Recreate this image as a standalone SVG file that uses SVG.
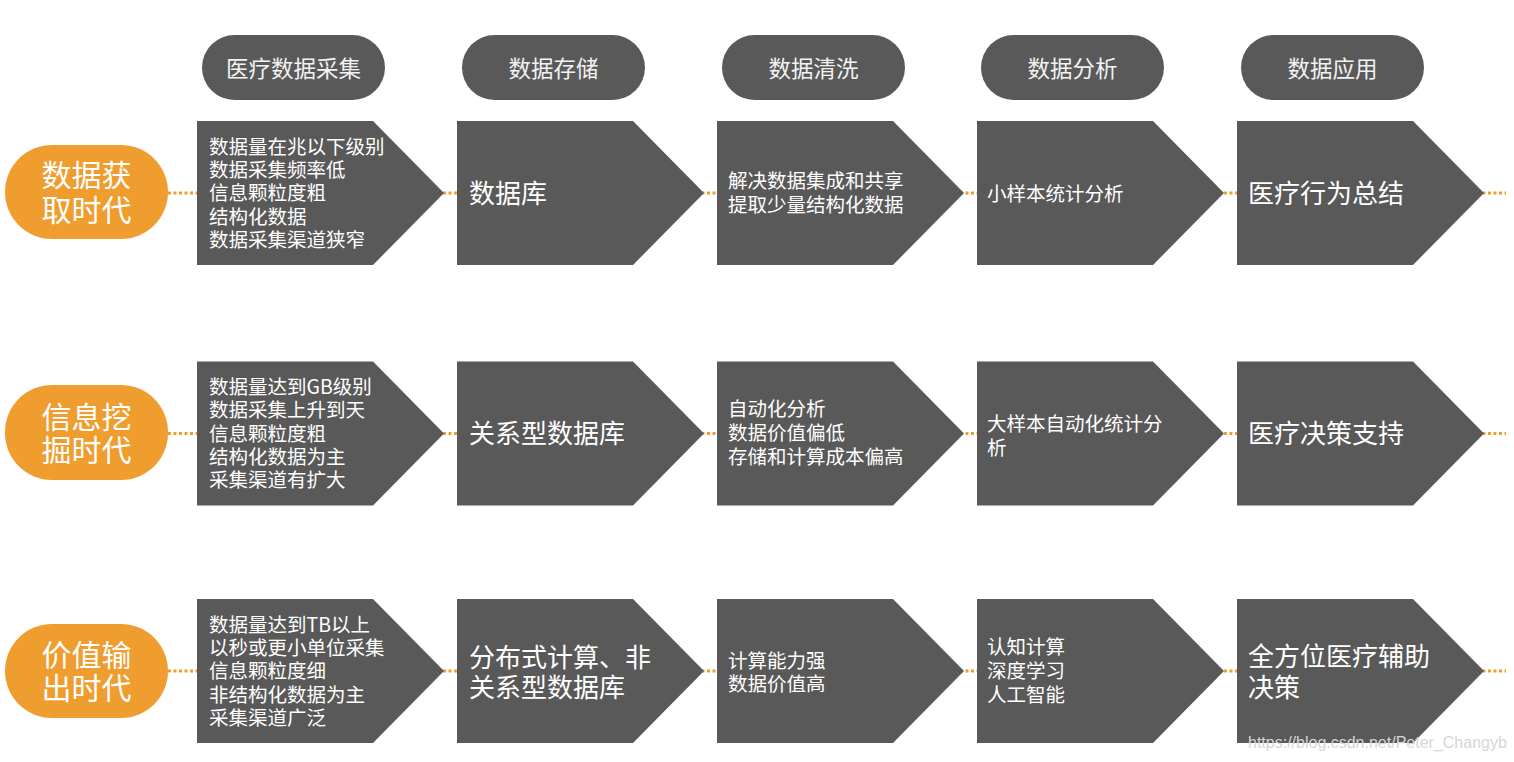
<svg xmlns="http://www.w3.org/2000/svg" width="1514" height="762" viewBox="0 0 1514 762">
<defs>
<style>
.hdr{fill:#595959}
.hdrt{fill:#f2f2f2;font-family:"Noto Sans CJK SC","Liberation Sans",sans-serif;font-size:22.5px;text-anchor:middle}
.era{fill:#EF9D2F}
.erat{fill:#ffffff;font-family:"Noto Sans CJK SC","Liberation Sans",sans-serif;font-size:30px;text-anchor:middle}
.box{fill:#595959}
.s{fill:#ffffff;font-family:"Noto Sans CJK SC","Liberation Sans",sans-serif;font-size:19.5px}
.l{fill:#ffffff;font-family:"Noto Sans CJK SC","Liberation Sans",sans-serif;font-size:26px}
.dot{stroke:#EF9D2F;stroke-width:3;stroke-dasharray:3 2.5;fill:none}
.wm{fill:#d6d6d6;font-family:"Liberation Sans",Arial,sans-serif;font-size:16px}
</style>
<polygon id="arrow" points="0,0 176,0 247,72 176,144 0,144"/>
</defs>
<rect width="1514" height="762" fill="#ffffff"/>

<g id="connectors">
<line class="dot" x1="168" y1="193" x2="1506" y2="193"/>
<line class="dot" x1="168" y1="433.5" x2="1506" y2="433.5"/>
<line class="dot" x1="168" y1="671" x2="1506" y2="671"/>
</g>

<g id="header-1"><rect class="hdr" x="202" y="35" width="183" height="65" rx="32.5"/><text class="hdrt" x="293.5" y="76.5">医疗数据采集</text></g>
<g id="header-2"><rect class="hdr" x="462" y="35" width="183" height="65" rx="32.5"/><text class="hdrt" x="553.5" y="76.5">数据存储</text></g>
<g id="header-3"><rect class="hdr" x="722" y="35" width="183" height="65" rx="32.5"/><text class="hdrt" x="813.5" y="76.5">数据清洗</text></g>
<g id="header-4"><rect class="hdr" x="981" y="35" width="183" height="65" rx="32.5"/><text class="hdrt" x="1072.5" y="76.5">数据分析</text></g>
<g id="header-5"><rect class="hdr" x="1241" y="35" width="183" height="65" rx="32.5"/><text class="hdrt" x="1332.5" y="76.5">数据应用</text></g>

<g id="era-1"><rect class="era" x="5" y="145" width="163" height="94" rx="47"/><text class="erat" x="86.5" y="186">数据获</text><text class="erat" x="86.5" y="221">取时代</text></g>
<g id="era-2"><rect class="era" x="5" y="385" width="163" height="95" rx="47"/><text class="erat" x="86.5" y="428">信息挖</text><text class="erat" x="86.5" y="461">掘时代</text></g>
<g id="era-3"><rect class="era" x="5" y="624" width="163" height="94" rx="47"/><text class="erat" x="86.5" y="666">价值输</text><text class="erat" x="86.5" y="699">出时代</text></g>

<!-- Row 1 -->
<g id="r1c1"><use href="#arrow" class="box" x="197" y="121"/>
<text class="s" x="209" y="153.8">数据量在兆以下级别</text>
<text class="s" x="209" y="177.1">数据采集频率低</text>
<text class="s" x="209" y="200.4">信息颗粒度粗</text>
<text class="s" x="209" y="223.7">结构化数据</text>
<text class="s" x="209" y="247">数据采集渠道狭窄</text></g>
<g id="r1c2"><use href="#arrow" class="box" x="457" y="121"/><text class="l" x="469" y="203">数据库</text></g>
<g id="r1c3"><use href="#arrow" class="box" x="717" y="121"/>
<text class="s" x="728" y="188">解决数据集成和共享</text>
<text class="s" x="728" y="211.5">提取少量结构化数据</text></g>
<g id="r1c4"><use href="#arrow" class="box" x="977" y="121"/><text class="s" x="987" y="200.5">小样本统计分析</text></g>
<g id="r1c5"><use href="#arrow" class="box" x="1237" y="121"/><text class="l" x="1248" y="203">医疗行为总结</text></g>

<!-- Row 2 -->
<g id="r2c1"><use href="#arrow" class="box" x="197" y="361.5"/>
<text class="s" x="209" y="394">数据量达到GB级别</text>
<text class="s" x="209" y="417.3">数据采集上升到天</text>
<text class="s" x="209" y="440.6">信息颗粒度粗</text>
<text class="s" x="209" y="463.9">结构化数据为主</text>
<text class="s" x="209" y="487.2">采集渠道有扩大</text></g>
<g id="r2c2"><use href="#arrow" class="box" x="457" y="361.5"/><text class="l" x="469" y="443">关系型数据库</text></g>
<g id="r2c3"><use href="#arrow" class="box" x="717" y="361.5"/>
<text class="s" x="728" y="416">自动化分析</text>
<text class="s" x="728" y="440">数据价值偏低</text>
<text class="s" x="728" y="464">存储和计算成本偏高</text></g>
<g id="r2c4"><use href="#arrow" class="box" x="977" y="361.5"/>
<text class="s" x="987" y="431">大样本自动化统计分</text>
<text class="s" x="987" y="454.5">析</text></g>
<g id="r2c5"><use href="#arrow" class="box" x="1237" y="361.5"/><text class="l" x="1248" y="443">医疗决策支持</text></g>

<!-- Row 3 -->
<g id="r3c1"><use href="#arrow" class="box" x="197" y="599"/>
<text class="s" x="209" y="631.8">数据量达到TB以上</text>
<text class="s" x="209" y="655.1">以秒或更小单位采集</text>
<text class="s" x="209" y="678.4">信息颗粒度细</text>
<text class="s" x="209" y="701.7">非结构化数据为主</text>
<text class="s" x="209" y="725">采集渠道广泛</text></g>
<g id="r3c2"><use href="#arrow" class="box" x="457" y="599"/>
<text class="l" x="469" y="666.5">分布式计算、非</text>
<text class="l" x="469" y="697">关系型数据库</text></g>
<g id="r3c3"><use href="#arrow" class="box" x="717" y="599"/>
<text class="s" x="728" y="667.5">计算能力强</text>
<text class="s" x="728" y="691">数据价值高</text></g>
<g id="r3c4"><use href="#arrow" class="box" x="977" y="599"/>
<text class="s" x="987" y="654">认知计算</text>
<text class="s" x="987" y="678">深度学习</text>
<text class="s" x="987" y="702">人工智能</text></g>
<g id="r3c5"><use href="#arrow" class="box" x="1237" y="599"/>
<text class="l" x="1248" y="666">全方位医疗辅助</text>
<text class="l" x="1248" y="697">决策</text></g>

<text class="wm" x="1248" y="748">https://blog.csdn.net/Peter_Changyb</text>
</svg>
